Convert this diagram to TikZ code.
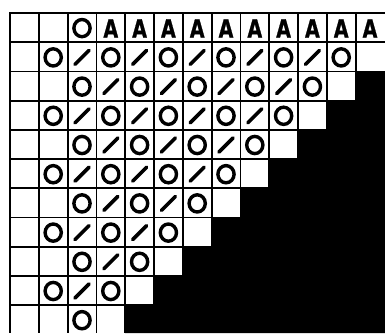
\documentclass[tikz,border=0pt]{standalone}
\usepackage{fontspec}
\setmainfont{Liberation Sans}
\newfontfamily\heavyA[BoldFeatures={FakeBold=1.2}]{DejaVu Sans}
\begin{document}
\begin{tikzpicture}[x=1pt,y=-1pt,
  gridline/.style={line width=1.8pt},
  ring/.style={line width=3.4pt},
  slashmark/.style={line width=3.6pt,line cap=round},
  letter/.style={font=\heavyA\fontsize{25}{25}\selectfont\bfseries,inner sep=0pt}]
\useasboundingbox[fill=white] (0,0) rectangle (385,333);
\def\gcw{28.8}
\def\grh{29.2}
% grid lines
\foreach \k in {0,...,10}
  \draw[gridline] (9.1,{13+\grh*\k}) -- (385,{13+\grh*\k});
\foreach \k in {0,...,12}
  \draw[gridline] ({10+\gcw*\k},12.1) -- ({10+\gcw*\k},333);
% black staircase
\fill[black] (355.6,71.4) -- (385,71.4) -- (385,333) -- (125.2,333)
  -- (125.2,305) -- (154,305) -- (154,275.8) -- (182.8,275.8)
  -- (182.8,246.6) -- (211.6,246.6) -- (211.6,217.4) -- (240.4,217.4)
  -- (240.4,188.2) -- (269.2,188.2) -- (269.2,159) -- (298,159)
  -- (298,129.8) -- (326.8,129.8) -- (326.8,100.6) -- (355.6,100.6) -- cycle;
% top row
\draw[ring] ({10+\gcw*2.5},{13+\grh*0.5+0.5}) ellipse[x radius=8.1,y radius=8.6];
\foreach \c in {3,...,12}
  \node[letter] (A\c) at ({10+\gcw*(\c+0.5)},{13+\grh*0.5+0.8}) {\scalebox{0.76}[1]{A}};
% body rows
\foreach \r in {1,...,10}{
  \pgfmathtruncatemacro{\rowstart}{2-mod(\r,2)}
  \pgfmathtruncatemacro{\rowend}{12-\r}
  \foreach \c in {\rowstart,...,\rowend}{
    \pgfmathtruncatemacro{\kind}{mod(\c+\r,2)}
    \pgfmathsetmacro{\cx}{10+\gcw*(\c+0.5)}
    \pgfmathsetmacro{\cy}{13+\grh*(\r+0.5)+0.6}
    \ifnum\kind=0
      \draw[ring] (\cx,\cy) ellipse[x radius=8.1,y radius=8.6];
    \else
      \draw[slashmark] ({\cx-7},{\cy+7}) -- ({\cx+7},{\cy-7});
    \fi
  }
}
\end{tikzpicture}
\end{document}
